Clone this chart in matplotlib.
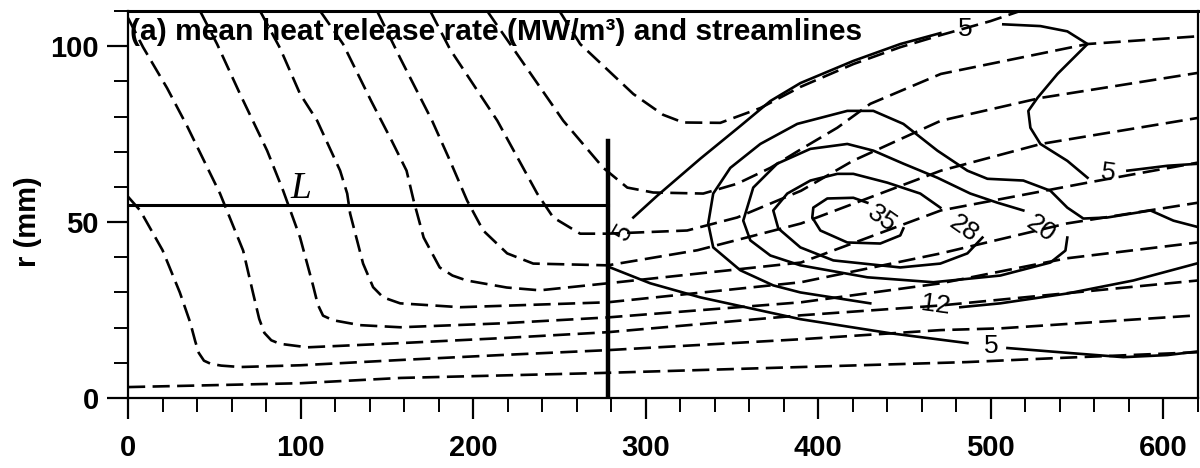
import numpy as np
import matplotlib.pyplot as plt
from matplotlib.ticker import MultipleLocator

plt.rcParams['font.family'] = ['Liberation Sans', 'DejaVu Sans']

nan = np.nan

# streamlines (dashed), axial x and radius r in mm
sl1_x = [0, 100, 158, 274, 390, 486, 536, 620]
sl1_y = [3.1, 4.2, 5.7, 7.1, 8.8, 10.2, 11.3, 13.0]
slA_x = [0, 7, 20, 30, 36, 39, 41, 44, 48, 54, 65, 100, 158, 216, 278, 390, 471, 506, 620]
slA_y = [57.2, 53.3, 42, 30, 21.5, 16, 12.8, 10.6, 9.7, 9.2, 8.8, 9.3, 10.8, 12.2, 13.6, 16.7, 19.3, 19.8, 23.5]
slB_x = [0, 8.7, 22.6, 34.2, 53.3, 66.7, 72.5, 76, 79, 83, 88, 104, 158, 216, 278, 390, 471, 620]
slB_y = [108, 99.7, 88.1, 77.3, 58.1, 41.9, 29.7, 22.5, 18.5, 16.4, 15.4, 14.4, 15.6, 17.0, 18.7, 23.5, 26.3, 33.4]
slC_x = [41.7, 51.6, 64.9, 80.6, 89.9, 99.7, 107.2, 110, 113, 118.8, 134.5, 157.7, 215.7, 278, 390, 471, 544, 620]
slC_y = [110, 100.6, 86.4, 70.3, 58.9, 45.6, 32.0, 26.5, 23.4, 22.1, 20.7, 20.1, 21.2, 22.9, 27.2, 32.6, 39.7, 44.2]
slD_x = [76.5, 88.1, 99.7, 109.6, 122.9, 127, 128.7, 136.2, 142, 147.8, 157.7, 192.5, 278, 390, 471, 544, 620]
slD_y = [110, 99.4, 86.4, 78.8, 64.6, 58.1, 52.4, 38.2, 31.5, 28.6, 26.9, 25.8, 27.2, 32.9, 41.1, 49.6, 55.5]
slE_x = [111.3, 124.6, 140.9, 152.8, 161.4, 165.5, 171.3, 180.6, 188, 196.2, 219.4, 238.6, 278, 390, 471, 556, 620]
slE_y = [110, 100.6, 84.4, 73.1, 64.6, 56.1, 45.6, 37.1, 34.8, 33.4, 31.4, 30.6, 32.6, 38.5, 53.3, 61.2, 66.9]
slF_x = [144.3, 157.7, 176.2, 186.6, 196.5, 205.8, 219.7, 234.8, 278, 330, 390, 471, 529, 620]
slF_y = [110, 96.6, 78.8, 67.4, 56.1, 47.6, 41.1, 38.2, 37.7, 42, 49.6, 64.6, 72.2, 79.6]
slG_x = [175.1, 186.6, 214, 237.1, 246.4, 262, 278, 324, 353, 390, 420, 471, 529, 620]
slG_y = [110, 99.1, 78.8, 58.1, 51.3, 46.7, 46.7, 47.6, 51.3, 58.9, 67.4, 78.8, 85.3, 92.4]
slH_x = [208.1, 221.4, 252.2, 275.4, 289.3, 304.3, 333.3, 353, 372.2, 391.3, 411, 430.1, 471, 556, 620]
slH_y = [110, 100.6, 78.8, 65.4, 59.8, 58.4, 58.1, 60.9, 65.4, 71.1, 76.8, 83.6, 92.1, 100.6, 102.8]
slI_x = [250, 262, 292.8, 310, 321.7, 343.2, 366.4, 389.6, 420.3, 447.5, 470.7, 499.7, 517]
slI_y = [110, 100.6, 86.4, 80.5, 78.3, 78.2, 82.4, 88.4, 94.9, 99.7, 103.1, 107.1, 110]

# heat release contours (solid), gaps (nan) where the labels sit
c5_up_x = [292.8, 306.7, 331.6, 354.8, 372.2, 389.6, 420.3, 447.5, 470.7, nan, 507.2, 528.7, 544.3,
           556, 538.6, 527, 521.7, 522.9, 528.7, 544.3, 556, nan, 579.1, 602.3, 621]
c5_up_y = [51.3, 57.5, 68.0, 77.3, 84.4, 89.5, 95.8, 100.6, 103.7, nan, 106.2, 105.7, 104.2,
           100.6, 92.1, 85.3, 81.6, 76.8, 72.2, 67.4, 62.6, nan, 64.6, 66.0, 66.6]
c5_low_x = [279.4, 302.6, 331.6, 360.6, 389.6, 441.7, 486.4, nan, 509.6, 547.8, 576.8, 602.3, 621]
c5_low_y = [37.1, 32.6, 28.6, 25.5, 22.4, 18.4, 15.6, nan, 14.2, 12.7, 11.6, 12.2, 13.3]
c12_x = [621.4, 605.8, 592.5, 567.5, 553.6, 544.3, 534.5, 518.8, 498, 486.4, 469, 449.3, 431.9,
         416.8, 387.8, 366.4, 349, 339.1, 336.2, 339.1, 354.8, 373.9, 389.6, 430.1, nan,
         482.3, 505.5, 544.3, 582.6, 621.4]
c12_y = [48.4, 50.4, 53.3, 51.3, 51.0, 54.1, 58.9, 61.8, 62.3, 64.6, 70.3, 77.9, 81.6,
         81.6, 77.9, 72.2, 65.4, 58.1, 49.6, 42.8, 36.3, 32.0, 30.0, 26.9, nan,
         25.8, 26.9, 29.7, 33.4, 38.5]
c20_x = [518.8, 503.8, 488.1, 469, 449.3, 431.9, 416.8, 395.4, 376.2, 362.3, 356.5, 360.6, 372.2,
         389.6, 428.4, 466.7, 505.5, 534.5, 543.2, 544.3]
c20_y = [53.3, 55.5, 58.1, 62.6, 66.6, 70.3, 72.2, 70.8, 66.6, 59.8, 50.4, 44.8, 40.5,
         37.7, 34.3, 32.9, 34.8, 38.5, 41.9, 45.6]
c28_x = [470.7, 459.1, 440, 420.3, 411, 395.4, 382, 373.9, 376.8, 389.6, 408.7, 447.5, 470.7, 486.4, 495.1]
c28_y = [54.1, 58.1, 61.2, 63.7, 63.7, 61.8, 58.1, 53.3, 48.2, 42.8, 39.1, 37.1, 38.2, 41.1, 45.6]
c35_x = [428.4, 420.3, 405.2, 397.1, 396.5, 401.2, 416.8, 435.9, 447.5, 449.3]
c35_y = [55.5, 56.9, 56.7, 54.1, 51.3, 47.6, 44.2, 43.9, 46.2, 48.2]

lab_text = ['35', '28', '20', '12', '5', '5', '5', '5']
lab_x = [437, 484, 529, 468, 485, 568, 500, 287]
lab_y = [51, 48, 48, 26.3, 105, 64, 14.7, 47]
lab_rot = [-35, -35, -35, -8, 0, -8, 0, 60]

x_cut = 278      # vertical line
r_cut = 73
L_r = 54.8       # length marker L
L_label = 'L'

streamlines = [(sl1_x, sl1_y), (slA_x, slA_y), (slB_x, slB_y), (slC_x, slC_y), (slD_x, slD_y),
               (slE_x, slE_y), (slF_x, slF_y), (slG_x, slG_y), (slH_x, slH_y), (slI_x, slI_y)]
contours = [(c5_up_x, c5_up_y), (c5_low_x, c5_low_y), (c12_x, c12_y),
            (c20_x, c20_y), (c28_x, c28_y), (c35_x, c35_y)]

fig = plt.figure(figsize=(12, 4.68), dpi=100)
ax = fig.add_axes([0.1067, 0.1496, 0.8916, 0.827])

for x, y in streamlines:
    ax.plot(x, y, color='k', lw=1.9, linestyle=(0, (6.5, 2.8)), dash_capstyle='butt',
            solid_joinstyle='round')
for x, y in contours:
    ax.plot(x, y, color='k', lw=1.9, solid_joinstyle='round')

for t, x, y, r in zip(lab_text, lab_x, lab_y, lab_rot):
    ax.text(x, y, t, fontsize=19, rotation=r, ha='center', va='center')

ax.plot([0, x_cut], [L_r, L_r], color='k', lw=2.2)
ax.plot([x_cut, x_cut], [0, r_cut], color='k', lw=3.2)
ax.text(94, 56.7, L_label, family=['Liberation Serif', 'DejaVu Serif'], style='italic',
        fontsize=27, ha='left', va='baseline')

ax.text(0.002, 0.925, '(a) mean heat release rate (MW/m³) and streamlines',
        transform=ax.transAxes, ha='left', va='baseline', fontsize=21.6, fontweight='bold')

ax.set_xlim(0, 620)
ax.set_ylim(0, 110)
ax.set_xticks(range(0, 601, 100))
ax.set_yticks([0, 50, 100])
ax.xaxis.set_minor_locator(MultipleLocator(20))
ax.yaxis.set_minor_locator(MultipleLocator(10))
ax.tick_params(which='major', direction='out', length=15, width=1.6, labelsize=21, pad=6)
ax.tick_params(which='minor', direction='out', length=10, width=1.4)
ax.tick_params(axis='x', which='major', pad=11)
for lab in ax.get_xticklabels() + ax.get_yticklabels():
    lab.set_fontweight('bold')
for s in ax.spines.values():
    s.set_linewidth(1.6)
ax.spines['top'].set_linewidth(2.2)

ax.set_ylabel('r (mm)', fontsize=21, fontweight='bold')
ax.yaxis.set_label_coords(-0.08, 0.455)

fig.savefig('out.png', dpi=100)
